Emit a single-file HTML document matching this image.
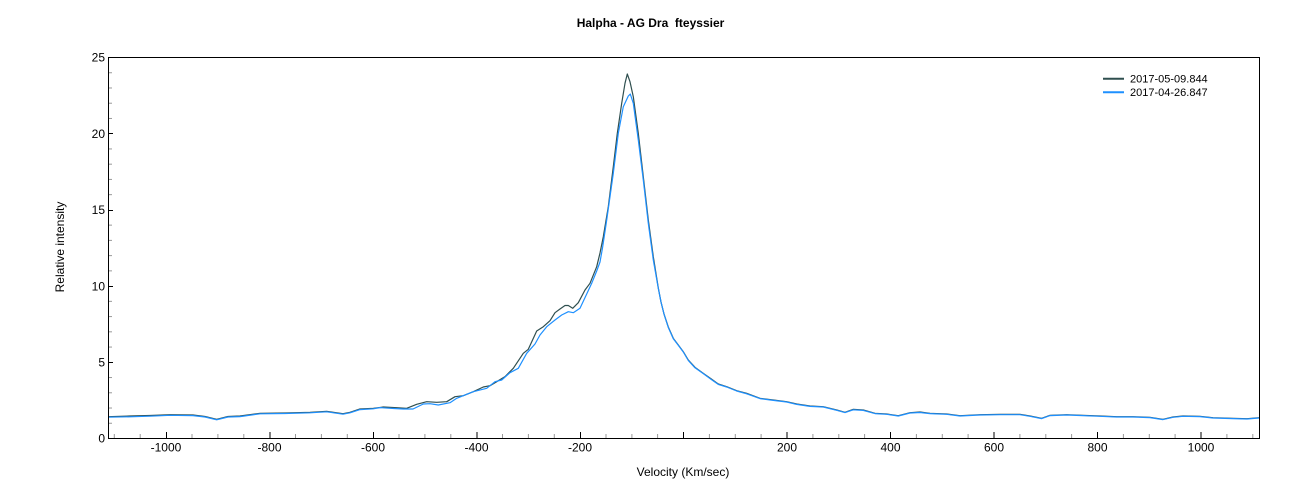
<!DOCTYPE html>
<html>
<head>
<meta charset="utf-8">
<style>
html,body{margin:0;padding:0;background:#fff;}
svg{display:block;font-family:"Liberation Sans",Arial,sans-serif;}
</style>
</head>
<body>
<svg width="1299" height="500" viewBox="0 0 1299 500" xmlns="http://www.w3.org/2000/svg">
<rect width="1299" height="500" fill="#fff"/>
<text x="650.5" y="27" text-anchor="middle" font-size="12" font-weight="bold" xml:space="preserve">Halpha - AG Dra  fteyssier</text>

<g id="ticks"></g>

<!-- dark series -->
<polyline fill="none" stroke="#2F4F4F" stroke-width="1.2" stroke-linejoin="round" points="
108,416.7 130,416 150,415.5 170,414.7 193,415 205,416.5 216.7,419.3 228,416.5 240,416 260,413.3 285,413 310,412.3 326.7,411.3 343,413.7 350,412.3 360,409 373.3,408.3 383.3,407 396.7,407.7 406.7,408.3 416.7,404.3 426.7,401.7 436.7,402.3 446.7,401.7 455,396.7 463.3,395.7 473.3,391.7 483.3,387 490,385.7 496.7,381.7 505,376.7 513.3,368.3 523.3,353.3 528.3,349.3 536.7,331 543.3,326.7 550,320.7 555,312.7 560,309 565,305.5 568.3,305.5 572.7,308.3 578.3,302.7 585,290 590,283.3 596.7,266.7 600,253 603.3,236.7 608.3,206.7 613.3,166.7 617.3,133.3 621.7,103.3 625,83.3 627.3,74 630,81.7 633.3,96.7 638.3,133.3 643.3,176.7 648.3,220 653.3,256.7 658.3,288 661,302 664,314 668.3,327 673.3,338.3 678.3,345 683.3,351.7 688.3,360 695,367.3 703.3,373.3 711.7,379.3 718.3,384 726.7,386.7 736.7,390.7 746.7,393.3 760,398.3 773.3,400 786.7,401.7 796.7,404 810,406 823.3,406.7 836.7,410 845,412.3 853.3,409.3 863.3,410 875,413.3 886.7,414 898.3,415.7 910,412.7 920,412 930,413.3 946.7,414 960,415.7 980,414.7 1000,414.3 1020,414.3 1030,416 1041.7,418.3 1050,415.3 1066.7,414.7 1083,415.3 1100,416 1116.7,416.7 1133,416.7 1150,417.3 1163,419.3 1173,417 1183,416 1200,416.3 1213,417.7 1233,418.3 1247,418.7 1259,417.7"/>

<!-- blue series -->
<polyline fill="none" stroke="#1E90FF" stroke-width="1.2" stroke-linejoin="round" points="
108,417.2 130,416.8 150,416.2 170,415.3 193,415.6 205,417 216.7,419.8 228,417 240,416.6 260,413.8 285,413.5 310,412.8 326.7,411.8 343,414.2 350,412.8 360,409.6 373.3,408.8 380,407.6 394,408.5 403.3,409 413,409 423.3,404 430,403.7 438.3,405 450,402.7 456.7,398.3 473.3,391.7 486.7,388.3 495,381.7 501.7,380 510,372.7 518.3,368.3 526.7,353.3 535,344 540,335 546.7,326.7 555,320 561.7,315 568.3,311.7 573.3,312.7 580,308.3 586.7,294 591.7,283.3 596.7,271 600,262 602.5,248 606.7,220 613.3,173.3 618.3,133.3 623.3,106.7 628.3,96 630.3,94 633.3,103.3 638.3,140 643.3,180 648.3,223.3 653.3,260 658.3,288.3 661,302 664,314 668.3,327.5 673.3,338.8 678.3,345.3 683.3,352 688.3,360.5 695,367.8 703.3,373.6 711.7,379.8 718.3,384.4 726.7,387 736.7,391 746.7,393.8 760,398.6 773.3,400.4 786.7,402 796.7,404.4 810,406.4 823.3,407 836.7,410.3 845,412.6 853.3,409.8 863.3,410.4 875,413.6 886.7,414.3 898.3,416 910,413 920,412.5 930,413.6 946.7,414.3 960,416 980,415 1000,414.7 1020,414.7 1030,416.3 1041.7,418.6 1050,415.6 1066.7,415 1083,415.6 1100,416.3 1116.7,417 1133,417 1150,417.6 1163,419.6 1173,417.3 1183,416.3 1200,416.6 1213,418 1233,418.6 1247,419 1259,418"/>

<!-- frame -->
<rect x="108.5" y="57.5" width="1151" height="381" fill="none" stroke="#000" stroke-width="1"/>

<!-- y ticks -->
<g stroke="#999" stroke-width="1">
<line x1="109" x2="112" y1="423.26" y2="423.26"/><line x1="109" x2="112" y1="408.02" y2="408.02"/><line x1="109" x2="112" y1="392.78" y2="392.78"/><line x1="109" x2="112" y1="377.54" y2="377.54"/>
<line x1="109" x2="112" y1="347.06" y2="347.06"/><line x1="109" x2="112" y1="331.82" y2="331.82"/><line x1="109" x2="112" y1="316.58" y2="316.58"/><line x1="109" x2="112" y1="301.34" y2="301.34"/>
<line x1="109" x2="112" y1="270.86" y2="270.86"/><line x1="109" x2="112" y1="255.62" y2="255.62"/><line x1="109" x2="112" y1="240.38" y2="240.38"/><line x1="109" x2="112" y1="225.14" y2="225.14"/>
<line x1="109" x2="112" y1="194.66" y2="194.66"/><line x1="109" x2="112" y1="179.42" y2="179.42"/><line x1="109" x2="112" y1="164.18" y2="164.18"/><line x1="109" x2="112" y1="148.94" y2="148.94"/>
<line x1="109" x2="112" y1="118.46" y2="118.46"/><line x1="109" x2="112" y1="103.22" y2="103.22"/><line x1="109" x2="112" y1="87.98" y2="87.98"/><line x1="109" x2="112" y1="72.74" y2="72.74"/>
</g>
<g stroke="#000" stroke-width="1">
<line x1="108" x2="113" y1="362.5" y2="362.5"/><line x1="108" x2="113" y1="286.5" y2="286.5"/><line x1="108" x2="113" y1="210.5" y2="210.5"/><line x1="108" x2="113" y1="133.5" y2="133.5"/>
</g>
<g font-size="12" text-anchor="end">
<text x="105" y="442.5">0</text>
<text x="105" y="366.5">5</text>
<text x="105" y="290.5">10</text>
<text x="105" y="214">15</text>
<text x="105" y="138">20</text>
<text x="105" y="61.5">25</text>
</g>

<!-- x ticks -->
<g stroke="#999" stroke-width="1" id="xminor">
<line x1="114.3" x2="114.3" y1="434" y2="438"/><line x1="140.2" x2="140.2" y1="434" y2="438"/>
<line x1="192" x2="192" y1="434" y2="438"/><line x1="217.9" x2="217.9" y1="434" y2="438"/><line x1="243.8" x2="243.8" y1="434" y2="438"/>
<line x1="295.5" x2="295.5" y1="434" y2="438"/><line x1="321.4" x2="321.4" y1="434" y2="438"/><line x1="347.3" x2="347.3" y1="434" y2="438"/>
<line x1="399" x2="399" y1="434" y2="438"/><line x1="424.9" x2="424.9" y1="434" y2="438"/><line x1="450.8" x2="450.8" y1="434" y2="438"/>
<line x1="502.5" x2="502.5" y1="434" y2="438"/><line x1="528.4" x2="528.4" y1="434" y2="438"/><line x1="554.3" x2="554.3" y1="434" y2="438"/>
<line x1="606" x2="606" y1="434" y2="438"/><line x1="631.9" x2="631.9" y1="434" y2="438"/><line x1="657.6" x2="657.6" y1="434" y2="438"/>
<line x1="709.4" x2="709.4" y1="434" y2="438"/><line x1="735.3" x2="735.3" y1="434" y2="438"/><line x1="761.1" x2="761.1" y1="434" y2="438"/>
<line x1="812.9" x2="812.9" y1="434" y2="438"/><line x1="838.8" x2="838.8" y1="434" y2="438"/><line x1="864.6" x2="864.6" y1="434" y2="438"/>
<line x1="916.4" x2="916.4" y1="434" y2="438"/><line x1="942.3" x2="942.3" y1="434" y2="438"/><line x1="968.1" x2="968.1" y1="434" y2="438"/>
<line x1="1019.9" x2="1019.9" y1="434" y2="438"/><line x1="1045.8" x2="1045.8" y1="434" y2="438"/><line x1="1071.6" x2="1071.6" y1="434" y2="438"/>
<line x1="1123.4" x2="1123.4" y1="434" y2="438"/><line x1="1149.3" x2="1149.3" y1="434" y2="438"/><line x1="1175.1" x2="1175.1" y1="434" y2="438"/>
<line x1="1226.9" x2="1226.9" y1="434" y2="438"/><line x1="1252.8" x2="1252.8" y1="434" y2="438"/>
</g>
<g stroke="#000" stroke-width="1">
<line x1="166.5" x2="166.5" y1="432" y2="438"/><line x1="270" x2="270" y1="432" y2="438"/><line x1="373.5" x2="373.5" y1="432" y2="438"/>
<line x1="477" x2="477" y1="432" y2="438"/><line x1="580.5" x2="580.5" y1="432" y2="438"/><line x1="683.5" x2="683.5" y1="432" y2="438"/>
<line x1="787" x2="787" y1="432" y2="438"/><line x1="890.5" x2="890.5" y1="432" y2="438"/><line x1="994" x2="994" y1="432" y2="438"/>
<line x1="1097.5" x2="1097.5" y1="432" y2="438"/><line x1="1201" x2="1201" y1="432" y2="438"/>
</g>
<g font-size="12" text-anchor="middle">
<text x="166" y="451.5">-1000</text>
<text x="269.5" y="451.5">-800</text>
<text x="373" y="451.5">-600</text>
<text x="476.5" y="451.5">-400</text>
<text x="580" y="451.5">-200</text>
<text x="787" y="451.5">200</text>
<text x="890.5" y="451.5">400</text>
<text x="994" y="451.5">600</text>
<text x="1097.5" y="451.5">800</text>
<text x="1201" y="451.5">1000</text>
</g>

<text x="683" y="476" text-anchor="middle" font-size="12">Velocity (Km/sec)</text>
<text x="0" y="0" transform="translate(64,247) rotate(-90)" text-anchor="middle" font-size="12">Relative intensity</text>

<!-- legend -->
<line x1="1103" x2="1124" y1="78.7" y2="78.7" stroke="#2F4F4F" stroke-width="2"/>
<line x1="1103" x2="1124" y1="92.3" y2="92.3" stroke="#1E90FF" stroke-width="2"/>
<text x="1130" y="82.5" font-size="11">2017-05-09.844</text>
<text x="1130" y="96" font-size="11">2017-04-26.847</text>
</svg>
</body>
</html>
